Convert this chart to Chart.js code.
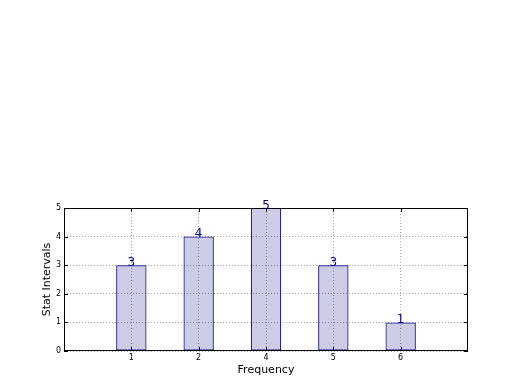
<!DOCTYPE html>
<html lang="en">
<head>
    <meta charset="UTF-8">
    <title>Stat Intervals</title>
    <script src="https://cdn.jsdelivr.net/npm/chart.js"></script>
    <style>
        body { margin: 0; background: #fff; }
    </style>
</head>
<body>
    <canvas id="myChart" width="520" height="390"></canvas>
    <script>
        // bar slots on the x axis and what they are labelled
        const positions = [1, 2, 3, 4, 5];
        const freqLabels = ['1', '2', '4', '5', '6'];
        const counts = [3, 4, 5, 3, 1];
        const yTicks = [0, 1, 2, 3, 4, 5];

        const navy = '#000080';
        const font = 'DejaVu Sans';

        // frame + inward tick marks, matplotlib style
        const framePlugin = {
            id: 'frame',
            afterDatasetsDraw(chart) {
                const { ctx, chartArea: a, scales } = chart;
                ctx.save();
                ctx.strokeStyle = '#000';
                ctx.lineWidth = 1;
                ctx.strokeRect(a.left + 0.5, a.top + 0.5, a.right - a.left - 1, a.bottom - a.top - 1);
                ctx.beginPath();
                positions.forEach(v => {
                    const x = Math.round(scales.x.getPixelForValue(v)) + 0.5;
                    ctx.moveTo(x, a.bottom); ctx.lineTo(x, a.bottom - 4);
                    ctx.moveTo(x, a.top); ctx.lineTo(x, a.top + 4);
                });
                yTicks.forEach(v => {
                    const y = Math.round(scales.y.getPixelForValue(v)) + 0.5;
                    ctx.moveTo(a.left, y); ctx.lineTo(a.left + 4, y);
                    ctx.moveTo(a.right, y); ctx.lineTo(a.right - 4, y);
                });
                ctx.stroke();

                // value labels on top of bars
                const meta = chart.getDatasetMeta(0);
                ctx.fillStyle = navy;
                ctx.font = '12px ' + font;
                ctx.textAlign = 'center';
                ctx.textBaseline = 'alphabetic';
                meta.data.forEach((bar, i) => {
                    ctx.fillText(String(counts[i]), bar.x, bar.y + 0.5);
                });
                ctx.restore();
            }
        };

        new Chart(document.getElementById('myChart'), {
            type: 'bar',
            data: {
                datasets: [{
                    data: positions.map((p, i) => ({ x: p, y: counts[i] })),
                    backgroundColor: 'rgba(0,0,128,0.2)',
                    borderColor: navy,
                    borderWidth: 1,
                    borderSkipped: false,
                    categoryPercentage: 1,
                    barPercentage: 0.45
                }]
            },
            options: {
                responsive: false,
                animation: false,
                layout: { padding: { top: 208, right: 52, left: 0, bottom: 0 } },
                plugins: {
                    legend: { display: false },
                    tooltip: { enabled: false }
                },
                scales: {
                    x: {
                        type: 'linear',
                        min: 0,
                        max: 6,
                        offset: false,
                        afterBuildTicks: (scale) => {
                            scale.ticks = positions.map(v => ({ value: v }));
                        },
                        afterFit: (scale) => { scale.height = 39; },
                        grid: { color: '#a8a8a8', lineWidth: 1, drawTicks: false, offset: false },
                        border: { display: false, dash: [1, 2] },
                        ticks: {
                            color: '#000',
                            padding: 2,
                            font: { family: font, size: 8 },
                            callback: (v) => freqLabels[positions.indexOf(v)]
                        },
                        title: {
                            display: true,
                            text: 'Frequency',
                            color: '#000',
                            font: { family: font, size: 11 },
                            padding: { top: 0, bottom: 13 }
                        }
                    },
                    y: {
                        min: 0,
                        max: 5,
                        afterBuildTicks: (scale) => {
                            scale.ticks = yTicks.map(v => ({ value: v }));
                        },
                        afterFit: (scale) => { scale.width = 64; },
                        grid: { color: '#a8a8a8', lineWidth: 1, drawTicks: false },
                        border: { display: false, dash: [1, 2] },
                        ticks: {
                            color: '#000',
                            padding: 3,
                            font: { family: font, size: 8 }
                        },
                        title: {
                            display: true,
                            text: 'Stat Intervals',
                            color: '#000',
                            font: { family: font, size: 11 },
                            padding: { top: 41, bottom: 0 }
                        }
                    }
                }
            },
            plugins: [framePlugin]
        });
    </script>
</body>
</html>
